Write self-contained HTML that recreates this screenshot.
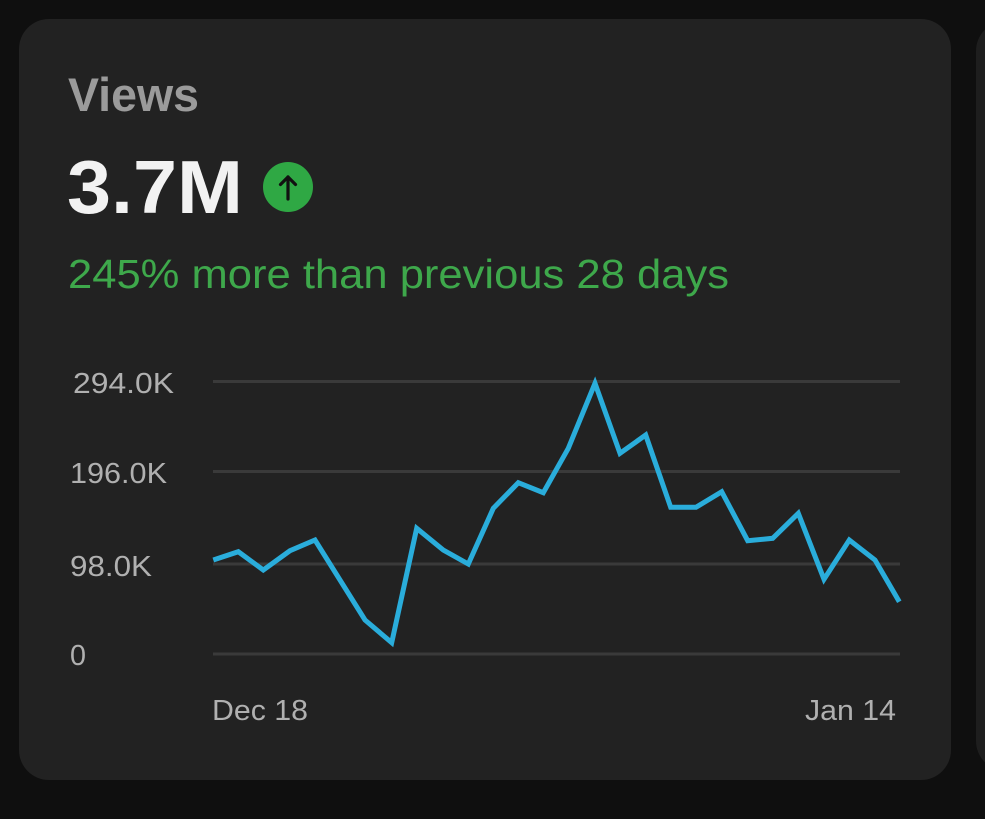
<!DOCTYPE html>
<html>
<head>
<meta charset="utf-8">
<style>
  html, body { margin:0; padding:0; background:#0f0f0f; }
  body { width:985px; height:819px; overflow:hidden; position:relative; }
  svg { position:absolute; left:0; top:0; }
</style>
</head>
<body>
<svg width="985" height="819" viewBox="0 0 985 819" xmlns="http://www.w3.org/2000/svg">
  <rect x="0" y="0" width="985" height="819" fill="#0f0f0f"/>
  <!-- main card -->
  <rect x="19" y="19" width="932" height="761" rx="30" ry="30" fill="#222222"/>
  <!-- second card peeking -->
  <rect x="976" y="21" width="60" height="750" rx="30" ry="30" fill="#1e1e1e"/>

  <!-- header -->
  <text x="68" y="111" font-family="Liberation Sans, sans-serif" font-weight="bold" font-size="47" fill="#9b9b9b" textLength="131" lengthAdjust="spacingAndGlyphs">Views</text>
  <text x="67" y="213" font-family="Liberation Sans, sans-serif" font-weight="bold" font-size="75" fill="#f2f2f2" textLength="176" lengthAdjust="spacingAndGlyphs">3.7M</text>
  <circle cx="288" cy="187" r="25" fill="#2fa844"/>
  <line x1="288" y1="177" x2="288" y2="199" stroke="#111" stroke-width="3.2" stroke-linecap="round"/>
  <polyline points="280.5,184.5 288,177 295.5,184.5" fill="none" stroke="#111" stroke-width="3.2" stroke-linecap="round" stroke-linejoin="round"/>
  <text x="68" y="288" font-family="Liberation Sans, sans-serif" font-size="41" fill="#3ea84b" textLength="661" lengthAdjust="spacingAndGlyphs">245% more than previous 28 days</text>

  <!-- gridlines -->
  <g stroke="#3a3a3a" stroke-width="3">
    <line x1="213" y1="381.5" x2="900" y2="381.5"/>
    <line x1="213" y1="471.5" x2="900" y2="471.5"/>
    <line x1="213" y1="564" x2="900" y2="564"/>
    <line x1="213" y1="654" x2="900" y2="654"/>
  </g>

  <!-- y labels -->
  <g font-family="Liberation Sans, sans-serif" font-size="29" fill="#b0b0b0">
    <text x="73" y="393" textLength="101" lengthAdjust="spacingAndGlyphs">294.0K</text>
    <text x="70" y="483" textLength="97" lengthAdjust="spacingAndGlyphs">196.0K</text>
    <text x="70" y="576" textLength="82" lengthAdjust="spacingAndGlyphs">98.0K</text>
    <text x="70" y="665" textLength="16" lengthAdjust="spacingAndGlyphs">0</text>
    <text x="212" y="720" textLength="96" lengthAdjust="spacingAndGlyphs">Dec 18</text>
    <text x="805" y="720" textLength="91" lengthAdjust="spacingAndGlyphs">Jan 14</text>
  </g>

  <!-- series -->
  <polyline fill="none" stroke="#2aaddb" stroke-width="5" stroke-linejoin="miter" stroke-miterlimit="4"
    points="213.3,560 238.3,551.7 263.3,570 290,550.7 315,540 365,620 391.7,642.7 416.7,528.3 443.3,550 468.3,564 493.3,508.3 518.3,482.7 543.3,492.7 568.3,448.3 595,383.3 620,453.3 645.7,435 670.7,507.3 696,507.3 721.7,491.7 747.7,540.7 772.7,538.3 798.3,513.3 824,579.3 849.3,540 875,560 899.3,601.7"/>
</svg>
</body>
</html>
